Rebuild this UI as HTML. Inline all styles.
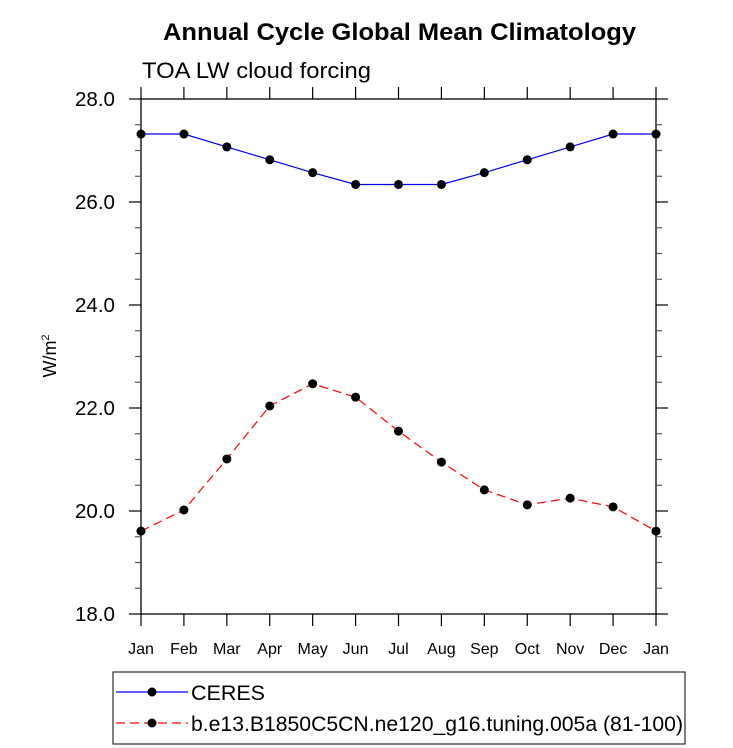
<!DOCTYPE html>
<html><head><meta charset="utf-8"><style>body{margin:0;background:#fff}svg{display:block;font-family:"Liberation Sans",sans-serif}</style></head>
<body>
<svg width="733" height="748">
<text x="163" y="40" font-size="24" font-weight="bold" textLength="473" lengthAdjust="spacingAndGlyphs">Annual Cycle Global Mean Climatology</text>
<text x="142" y="78" font-size="22" textLength="229" lengthAdjust="spacingAndGlyphs">TOA LW cloud forcing</text>
<text transform="translate(56,356) rotate(-90)" font-size="18" text-anchor="middle">W/m<tspan dy="-7" font-size="11">2</tspan></text>
<g id="axes"></g>
<g id="series"></g>
<rect x="113" y="672" width="572" height="72" fill="none" stroke="#000" stroke-width="1"/>
<g>
<line x1="116" y1="692" x2="188" y2="692" stroke="#00f" stroke-width="1.2"/>
<circle cx="152" cy="692" r="4.5"/>
<text x="191" y="700" font-size="21" textLength="74" lengthAdjust="spacingAndGlyphs">CERES</text></g>
<g>
<line x1="116" y1="723" x2="188" y2="723" stroke="#f00" stroke-width="1.2" stroke-dasharray="9,5"/>
<circle cx="152" cy="723" r="4.5"/>
<text x="191" y="731" font-size="21" textLength="492" lengthAdjust="spacingAndGlyphs">b.e13.B1850C5CN.ne120_g16.tuning.005a (81-100)</text></g>
</svg>
<script>
const months=["Jan","Feb","Mar","Apr","May","Jun","Jul","Aug","Sep","Oct","Nov","Dec","Jan"];
const ceres=[27.32,27.32,27.07,26.82,26.57,26.34,26.34,26.34,26.57,26.82,27.07,27.32,27.32];
const model=[19.61,20.02,21.01,22.04,22.47,22.21,21.55,20.95,20.41,20.12,20.25,20.08,19.61];
const yTicks=[18,20,22,24,26,28];
const NS="http://www.w3.org/2000/svg";
const L=141,R=656,T=99,B=614,X0=141,DX=(656-141)/12;
const xs=i=>X0+i*DX, ys=v=>B-(v-18)/10*(B-T);
function mk(tag,at,par){const e=document.createElementNS(NS,tag);for(const k in at)e.setAttribute(k,at[k]);par.appendChild(e);return e;}
const ax=document.getElementById('axes');
const frame=mk('rect',{x:L,y:T,width:R-L,height:B-T,fill:'none',stroke:'#000','stroke-width':1.3},ax);


for(let v=18;v<=28.001;v+=0.5){const maj=Math.abs(v-Math.round(v/2)*2)<1e-6;const y=ys(v);const len=maj?12:6;
mk('line',{x1:L-len,y1:y,x2:L,y2:y,stroke:maj?'#000':'#555','stroke-width':1.2},ax);
mk('line',{x1:R,y1:y,x2:R+len,y2:y,stroke:maj?'#000':'#555','stroke-width':1.2},ax);}
yTicks.forEach(v=>{const t=mk('text',{x:115,y:ys(v)+7,'font-size':20,'text-anchor':'end',textLength:40,lengthAdjust:'spacingAndGlyphs'},ax);t.textContent=v.toFixed(1);

});
months.forEach((m,i)=>{const x=xs(i);
mk('line',{x1:x,y1:B,x2:x,y2:B+12,stroke:'#000','stroke-width':1.2},ax);
mk('line',{x1:x,y1:T-12,x2:x,y2:T,stroke:'#000','stroke-width':1.2},ax);
const t=mk('text',{x:x,y:654,'font-size':16,'text-anchor':'middle'},ax);t.textContent=m;

});
const sg=document.getElementById('series');
function series(vals,color,dash,name){const g=mk('g',{},sg);


mk('polyline',{points:vals.map((v,i)=>xs(i)+','+ys(v)).join(' '),fill:'none',stroke:color,'stroke-width':1.2,'stroke-dasharray':dash},g);
vals.forEach((v,i)=>mk('circle',{cx:xs(i),cy:ys(v),r:4.5,fill:'#000'},g));}
series(ceres,'#00f','none','ceres-series');
series(model,'#f00','9,5','model-series');
</script>
</body></html>
